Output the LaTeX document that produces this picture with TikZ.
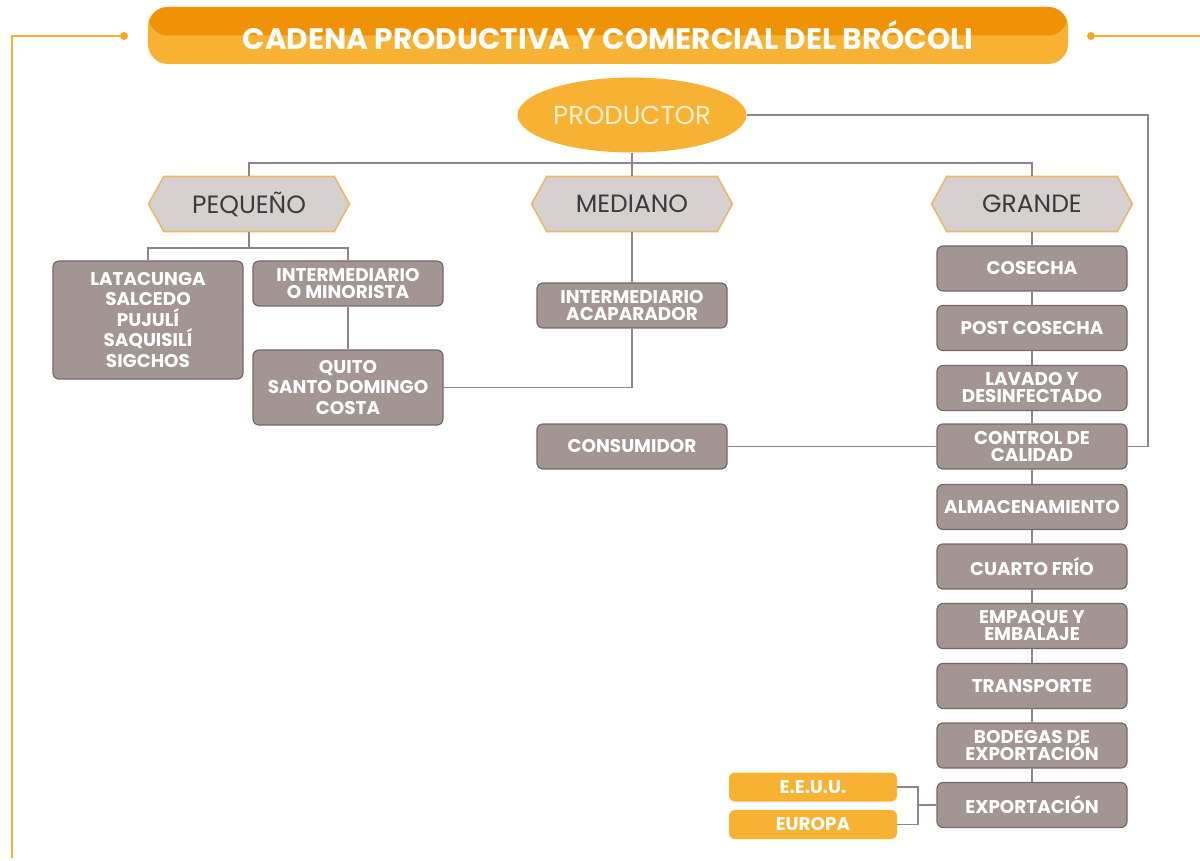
\documentclass[tikz,border=0pt]{standalone}
\usepackage{fontspec}
\setmainfont{Poppins}
\usetikzlibrary{positioning,shapes.symbols,shapes.geometric}

\definecolor{boxgray}{HTML}{A39591}
\definecolor{boxedge}{HTML}{74686A}
\definecolor{hexgray}{HTML}{D6D0D0}
\definecolor{hexedge}{HTML}{EDB766}
\definecolor{orlight}{HTML}{F7B233}
\definecolor{ordark}{HTML}{F09206}
\definecolor{linegray}{HTML}{8E8686}
\definecolor{cream}{HTML}{FFF1D2}
\definecolor{textdark}{HTML}{3C3A3A}
\newcommand\tightlines{\lineskiplimit=-6pt\lineskip=0pt\relax}

\begin{document}
\begin{tikzpicture}[
  x=0.5pt,y=-0.5pt,
  box/.style={draw=boxedge,fill=boxgray,rounded corners=3pt,line width=0.6pt,minimum width=95pt,minimum height=22.5pt,inner sep=1pt,align=center,text=white,font={\fontsize{9.2}{8.5}\selectfont\bfseries\tightlines}},
  bigbox/.style={box,font={\fontsize{9.2}{10.25}\selectfont\bfseries\tightlines}},
  hexa/.style={signal,signal to=west and east,signal pointer angle=122,draw=hexedge,fill=hexgray,line width=0.8pt,minimum width=100.5pt,minimum height=27.5pt,text=textdark,font=\fontsize{12.5}{12.5}\selectfont},
  dest/.style={fill=orlight,rounded corners=3pt,minimum width=84pt,minimum height=14.5pt,inner sep=1pt,text=white,font=\fontsize{9.2}{9.2}\selectfont\bfseries},
  line/.style={draw=linegray,line width=0.8pt},
  sideline/.style={draw=orlight!90!ordark,line width=1pt},
  dot/.style={circle,fill=orlight!70!ordark,inner sep=0pt,minimum size=4pt}
]
\useasboundingbox (0,0) rectangle (1200,861);
% title
\node[rounded corners=10pt,fill=orlight,minimum width=460pt,minimum height=28.5pt,
  path picture={\fill[ordark] (path picture bounding box.north west) rectangle (path picture bounding box.east);},
  text=white,font=\fontsize{14.8}{14.8}\selectfont\bfseries] (ttl) at (608,35.5) {CADENA PRODUCTIVA Y COMERCIAL DEL BRÓCOLI};
\node[dot] (dl) at (124,36) {};
\node[dot] (dr) at (1091,36) {};
\draw[sideline] (dl) -- (12,36) -- (12,858);
\draw[sideline] (dr) -- (1200,36);
% producer and its three sizes
\node[ellipse,fill=orlight,inner sep=0pt,minimum width=114.5pt,minimum height=37.5pt,text=cream,font=\fontsize{13}{13}\selectfont] (prod) at (632,115) {PRODUCTOR};
\node[hexa] (peq) at (249,204) {PEQUEÑO};
\node[hexa] (med) at (632,204) {MEDIANO};
\node[hexa] (gra) at (1032,204) {GRANDE};
% small producer
\node[bigbox,minimum height=59pt] (lat) at (148,320) {LATACUNGA\\SALCEDO\\PUJULÍ\\SAQUISILÍ\\SIGCHOS};
\node[box] (mino) at (348,283.5) {INTERMEDIARIO\\O MINORISTA};
\node[bigbox,minimum height=37.5pt] (qui) at (348,387.5) {QUITO\\SANTO DOMINGO\\COSTA};
% medium producer
\node[box] (acap) at (632,305.5) {INTERMEDIARIO\\ACAPARADOR};
\node[box] (cons) at (632,446.5) {CONSUMIDOR};
% large producer
\node[box] (g1) at (1032,268.5) {COSECHA};
\node[box] (g2) at (1032,328) {POST COSECHA};
\node[box] (g3) at (1032,388) {LAVADO Y\\DESINFECTADO};
\node[box] (g4) at (1032,446.5) {CONTROL DE\\CALIDAD};
\node[box] (g5) at (1032,507) {ALMACENAMIENTO};
\node[box] (g6) at (1032,566.5) {CUARTO FRÍO};
\node[box] (g7) at (1032,626) {EMPAQUE Y\\EMBALAJE};
\node[box] (g8) at (1032,686) {TRANSPORTE};
\node[box] (g9) at (1032,745.5) {BODEGAS DE\\EXPORTACIÓN};
\node[box] (g10) at (1032,805) {EXPORTACIÓN};
\node[dest] (usa) at (813,787) {E.E.U.U.};
\node[dest] (eur) at (813,824.5) {EUROPA};
% connectors
\coordinate (bar) at (632,163);
\coordinate (pb) at (249,248);
\coordinate (rt) at (1148,446.5);
\coordinate (xj) at (918,805);
\draw[line] (prod) -- (bar);
\draw[line] (peq.north) |- (bar) -| (gra.north);
\draw[line] (bar) -- (med.north);
\draw[line] (peq.south) -- (pb);
\draw[line] (lat.north) |- (pb) -| (mino.north);
\draw[line] (mino) -- (qui);
\draw[line] (qui.east) -| (acap.south);
\draw[line] (med.south) -- (acap);
\draw[line] (cons) -- (g4);
\draw[line] (prod.east) -| (rt) -- (g4.east);
\draw[line] (gra.south) -- (g1) -- (g2) -- (g3) -- (g4) -- (g5) -- (g6) -- (g7) -- (g8) -- (g9) -- (g10);
\draw[line] (usa.east) -| (xj) |- (eur.east);
\draw[line] (xj) -- (g10.west);
\end{tikzpicture}
\end{document}
